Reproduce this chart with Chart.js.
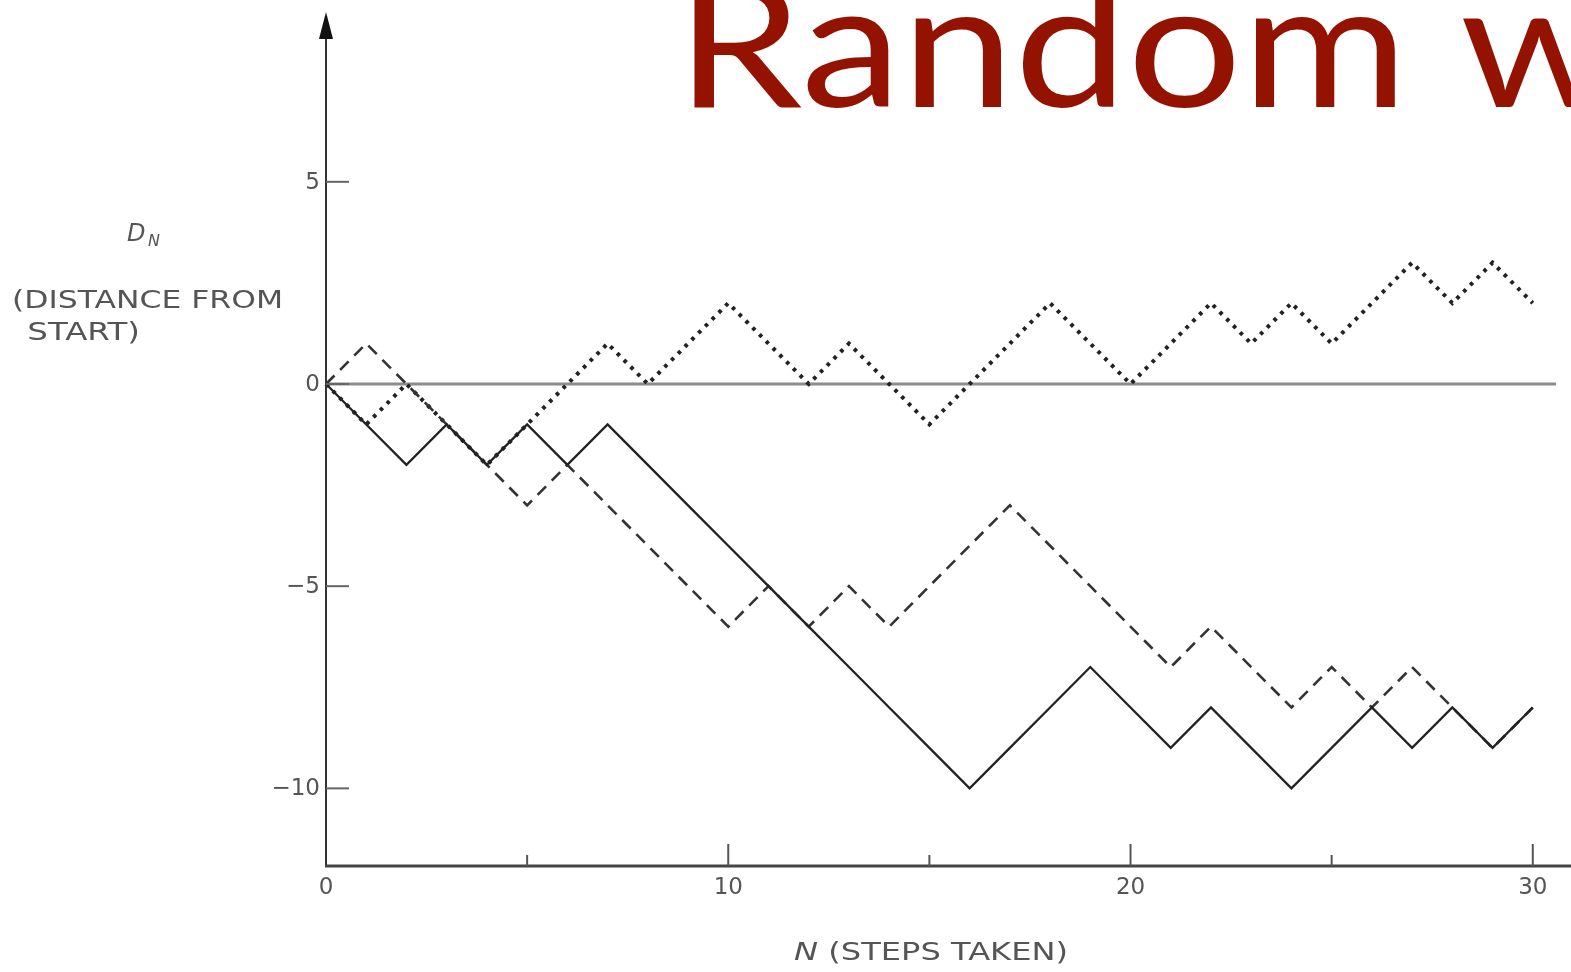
<!DOCTYPE html>
<html>
<head>
<meta charset="utf-8">
<style>
  html, body { margin: 0; padding: 0; background: #ffffff; overflow: hidden; }
  #wrap { width: 1571px; height: 972px; }
</style>
<script src="https://cdn.jsdelivr.net/npm/chart.js@4/dist/chart.umd.min.js"></script>
</head>
<body>
<div id="wrap"><canvas id="walk" width="1571" height="972"></canvas></div>
<script>
// Three one-dimensional random walks of 30 unit steps each.
const steps = [0, 1, 2, 3, 4, 5, 6, 7, 8, 9, 10, 11, 12, 13, 14, 15,
               16, 17, 18, 19, 20, 21, 22, 23, 24, 25, 26, 27, 28, 29, 30];
const walkSolid  = [0, -1, -2, -1, -2, -1, -2, -1, -2, -3, -4, -5, -6, -7, -8, -9,
                    -10, -9, -8, -7, -8, -9, -8, -9, -10, -9, -8, -9, -8, -9, -8];
const walkDashed = [0, 1, 0, -1, -2, -3, -2, -3, -4, -5, -6, -5, -6, -5, -6, -5,
                    -4, -3, -4, -5, -6, -7, -6, -7, -8, -7, -8, -7, -8, -9, -8];
const walkDotted = [0, -1, 0, -1, -2, -1, 0, 1, 0, 1, 2, 1, 0, 1, 0, -1,
                    0, 1, 2, 1, 0, 1, 2, 1, 2, 1, 2, 3, 2, 3, 2];

// Axis ticks and their labels
const xMajorTicks = [0, 10, 20, 30];
const xMinorTicks = [5, 15, 25];
const yTicks = [5, 0, -5, -10];

const titleText = 'Random w';
const yTitleSymbol = 'D';
const yTitleSub = 'N';
const yTitleLines = ['(DISTANCE FROM', ' START)'];
const xTitleSymbol = 'N';
const xTitleRest = ' (STEPS TAKEN)';

const toPoints = vals => steps.map((n, i) => ({ x: n, y: vals[i] }));

const TEXT = '#555555';
const AXIS = '#333333';
const SANS = '"DejaVu Sans", sans-serif';

function fitText(ctx, text, x, y, width) {
  // draws text stretched horizontally to the given width, left aligned at x
  const w = ctx.measureText(text).width;
  ctx.save();
  ctx.textAlign = 'left';
  ctx.translate(x, y);
  ctx.scale(width / w, 1);
  ctx.fillText(text, 0, 0);
  ctx.restore();
}

const decorations = {
  id: 'decorations',
  beforeDatasetsDraw(chart) {
    const { ctx, chartArea, scales: { x, y } } = chart;
    // horizontal zero reference line
    const y0 = y.getPixelForValue(0);
    ctx.save();
    ctx.strokeStyle = '#8c8c8c';
    ctx.lineWidth = 3;
    ctx.beginPath();
    ctx.moveTo(x.getPixelForValue(0), y0);
    ctx.lineTo(chartArea.right - 15, y0);
    ctx.stroke();
    ctx.restore();
  },
  afterDatasetsDraw(chart) {
    const { ctx, chartArea, scales: { x, y } } = chart;
    const xAxisY = chartArea.bottom;
    const yAxisX = x.getPixelForValue(0);
    ctx.save();

    // vertical axis with arrow head
    ctx.strokeStyle = AXIS;
    ctx.lineWidth = 2;
    ctx.beginPath();
    ctx.moveTo(yAxisX, xAxisY);
    ctx.lineTo(yAxisX, chartArea.top + 20);
    ctx.stroke();
    ctx.fillStyle = '#111111';
    ctx.beginPath();
    ctx.moveTo(yAxisX, chartArea.top);
    ctx.lineTo(yAxisX - 7, chartArea.top + 27);
    ctx.lineTo(yAxisX + 7, chartArea.top + 27);
    ctx.closePath();
    ctx.fill();

    // horizontal axis
    ctx.strokeStyle = '#444444';
    ctx.lineWidth = 3;
    ctx.beginPath();
    ctx.moveTo(yAxisX - 1, xAxisY);
    ctx.lineTo(chartArea.right, xAxisY);
    ctx.stroke();

    // x ticks (pointing up into the plot)
    ctx.strokeStyle = '#555555';
    ctx.lineWidth = 2;
    xMajorTicks.forEach(v => {
      if (v === 0) return;
      const px = x.getPixelForValue(v);
      ctx.beginPath();
      ctx.moveTo(px, xAxisY);
      ctx.lineTo(px, xAxisY - 22);
      ctx.stroke();
    });
    xMinorTicks.forEach(v => {
      const px = x.getPixelForValue(v);
      ctx.beginPath();
      ctx.moveTo(px, xAxisY);
      ctx.lineTo(px, xAxisY - 11);
      ctx.stroke();
    });

    // y ticks (pointing right into the plot)
    ctx.strokeStyle = '#666666';
    yTicks.forEach(v => {
      const py = y.getPixelForValue(v);
      ctx.beginPath();
      ctx.moveTo(yAxisX, py);
      ctx.lineTo(yAxisX + 23, py);
      ctx.stroke();
    });

    // tick labels
    ctx.fillStyle = TEXT;
    ctx.font = '23px ' + SANS;
    ctx.textBaseline = 'middle';
    ctx.textAlign = 'right';
    yTicks.forEach(v => {
      const label = v < 0 ? '\u2212' + Math.abs(v) : String(v);
      ctx.fillText(label, yAxisX - 6, y.getPixelForValue(v) + 1);
    });
    ctx.textAlign = 'center';
    ctx.textBaseline = 'top';
    xMajorTicks.forEach(v => {
      ctx.fillText(String(v), x.getPixelForValue(v), xAxisY + 11);
    });

    // y axis title
    ctx.textBaseline = 'alphabetic';
    ctx.textAlign = 'left';
    ctx.font = 'italic 24px ' + SANS;
    ctx.fillText(yTitleSymbol, 127, 241);
    ctx.font = 'italic 16px ' + SANS;
    ctx.fillText(yTitleSub, 148, 246);
    ctx.font = '24px ' + SANS;
    fitText(ctx, yTitleLines[0], 12, 308, 271);
    fitText(ctx, yTitleLines[1], 17, 340, 123);

    // x axis title
    ctx.font = 'italic 24px ' + SANS;
    const nW = ctx.measureText(xTitleSymbol).width;
    ctx.font = '24px ' + SANS;
    const restW = ctx.measureText(xTitleRest).width;
    const s = (1068 - 794) / (nW + restW);
    ctx.save();
    ctx.translate(794, 960);
    ctx.scale(s, 1);
    ctx.font = 'italic 24px ' + SANS;
    ctx.fillText(xTitleSymbol, 0, 0);
    ctx.font = '24px ' + SANS;
    ctx.fillText(xTitleRest, nW, 0);
    ctx.restore();

    // slide heading
    ctx.fillStyle = '#931300';
    ctx.font = '174px Lato, "Open Sans", sans-serif';
    const wordW = ctx.measureText('Random').width;
    const hs = 732 / wordW;
    ctx.save();
    ctx.translate(676, 107);
    ctx.scale(hs, 1);
    ctx.fillText(titleText, 0, 0);
    ctx.restore();

    ctx.restore();
  }
};

new Chart(document.getElementById('walk'), {
  type: 'line',
  data: {
    datasets: [
      {
        label: 'walk 1',
        data: toPoints(walkSolid),
        borderColor: '#222222',
        borderWidth: 2.3,
        pointRadius: 0,
        tension: 0,
        clip: false
      },
      {
        label: 'walk 2',
        data: toPoints(walkDashed),
        borderColor: '#333333',
        borderWidth: 2.6,
        borderDash: [12, 8],
        pointRadius: 0,
        tension: 0,
        clip: false
      },
      {
        label: 'walk 3',
        data: toPoints(walkDotted),
        borderColor: '#222222',
        borderWidth: 4,
        borderDash: [3.6, 6],
        pointRadius: 0,
        tension: 0,
        clip: false
      }
    ]
  },
  options: {
    responsive: false,
    devicePixelRatio: 1,
    animation: false,
    events: [],
    layout: { padding: { left: 326, right: 0, top: 12, bottom: 106 } },
    plugins: {
      legend: { display: false },
      tooltip: { enabled: false },
      title: { display: false }
    },
    scales: {
      x: { type: 'linear', min: 0, max: 30.95, display: false },
      y: { type: 'linear', min: -11.92, max: 9.2, display: false }
    }
  },
  plugins: [decorations]
});
</script>
</body>
</html>
